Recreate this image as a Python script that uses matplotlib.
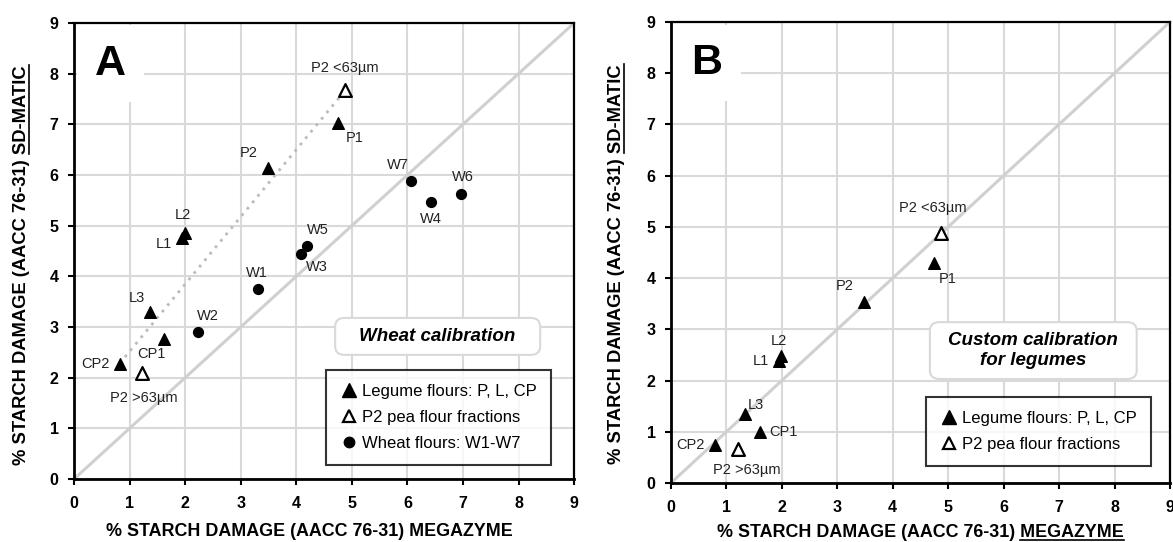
import numpy as np
import matplotlib.pyplot as plt
from matplotlib.lines import Line2D
from matplotlib.patches import FancyBboxPatch

plt.rcParams['font.family'] = ['Liberation Sans', 'DejaVu Sans']

# panel A - wheat calibration
leg_names = ['CP2', 'L3', 'CP1', 'L1', 'L2', 'P2', 'P1']
leg_x_a = [0.82, 1.36, 1.62, 1.95, 1.99, 3.49, 4.76]
leg_y_a = [2.28, 3.29, 2.76, 4.75, 4.85, 6.14, 7.03]
frac_names = ['P2 >63µm', 'P2 <63µm']
frac_x_a = [1.22, 4.88]
frac_y_a = [2.10, 7.67]
wheat_names = ['W1', 'W2', 'W3', 'W4', 'W5', 'W6', 'W7']
wheat_x = [3.32, 2.24, 4.09, 6.43, 4.19, 6.97, 6.07]
wheat_y = [3.76, 2.90, 4.44, 5.46, 4.60, 5.63, 5.88]

# panel B - custom calibration for legumes
leg_x_b = [0.80, 1.34, 1.60, 1.94, 1.98, 3.48, 4.74]
leg_y_b = [0.75, 1.34, 1.00, 2.39, 2.48, 3.54, 4.30]
frac_x_b = [1.21, 4.87]
frac_y_b = [0.66, 4.88]

# label offsets (points) for point names
leg_off_a = {'CP2': (-17.5, 0), 'L3': (-9, 10), 'CP1': (-9, -11), 'L1': (-13, -4),
             'L2': (-1, 13), 'P2': (-14, 11), 'P1': (12, -11)}
frac_off_a = {'P2 >63µm': (1.5, -18), 'P2 <63µm': (0, 16)}
wheat_off = {'W1': (-1, 11), 'W2': (6.5, 11.5), 'W3': (11.5, -9.5), 'W4': (0, -12),
             'W5': (8, 11.5), 'W6': (1, 12), 'W7': (-10, 11.5)}
leg_off_b = {'CP2': (-18, 0), 'L3': (8, 7), 'CP1': (17, 0), 'L1': (-13, 0),
             'L2': (-1, 11), 'P2': (-14, 11), 'P1': (10, -11.5)}
frac_off_b = {'P2 >63µm': (6, -15), 'P2 <63µm': (-6, 18)}

ylab = '% STARCH DAMAGE (AACC 76-31) SD-MATIC'
xlab = '% STARCH DAMAGE (AACC 76-31) MEGAZYME'
XL_SIZE = 12.9
YL_SIZE = 13.2

fig = plt.figure(figsize=(11.73, 5.42), dpi=100)
ax_a = fig.add_axes([0.0631, 0.1162, 0.4263, 0.8413])
ax_b = fig.add_axes([0.572, 0.1089, 0.4254, 0.8506])


def style_axes(ax):
    ax.set_xlim(0, 9)
    ax.set_ylim(0, 9)
    ax.set_xticks(range(10))
    ax.set_yticks(range(10))
    ax.grid(True, color='#d9d9d9', linewidth=1.5, zorder=0)
    ax.set_axisbelow(True)
    ax.plot([0, 9], [0, 9], color='#d0d0d0', linewidth=2.2, zorder=1)
    for s in ['left', 'bottom']:
        ax.spines[s].set_linewidth(2)
    for s in ['top', 'right']:
        ax.spines[s].set_linewidth(1.6)
    ax.tick_params(direction='out', length=4, width=1.5, labelsize=11.5)
    ax.tick_params(axis='x', pad=8)
    ax.tick_params(axis='y', pad=7)
    for lbl in ax.get_xticklabels() + ax.get_yticklabels():
        lbl.set_fontweight('bold')


def annotate(ax, names, xs, ys, offs):
    for n, x, y in zip(names, xs, ys):
        dx, dy = offs[n]
        ax.annotate(n, (x, y), xytext=(dx, dy), textcoords='offset points',
                    ha='center', va='center', fontsize=10.5, color='#222222', zorder=5)


def note_box(ax, x0, x1, y0, y1, txt):
    ax.add_patch(FancyBboxPatch((x0, y0), x1 - x0, y1 - y0,
                                boxstyle='round,pad=0,rounding_size=0.17',
                                facecolor='white', edgecolor='#d9d9d9', linewidth=1.5,
                                zorder=5))
    ax.text((x0 + x1) / 2, (y0 + y1) / 2, txt, fontsize=13.5, fontweight='bold',
            style='italic', ha='center', va='center', linespacing=1.25, zorder=6)


def text_len(s, size, renderer):
    t = fig.text(0, 0, s, fontsize=size, fontweight='bold')
    w = t.get_window_extent(renderer).width
    t.remove()
    return w


def underline_y(label, word, renderer):
    bb = label.get_window_extent(renderer)
    w = text_len(word, YL_SIZE, renderer)
    x = bb.x1 - 1.5
    fig.add_artist(Line2D([x / fig.bbox.width] * 2,
                          [(bb.y1 - w) / fig.bbox.height, bb.y1 / fig.bbox.height],
                          color='black', linewidth=1.2))


def underline_x(label, word, renderer):
    bb = label.get_window_extent(renderer)
    w = text_len(word, XL_SIZE, renderer)
    y = bb.y0 + 1.5
    fig.add_artist(Line2D([(bb.x1 - w) / fig.bbox.width, bb.x1 / fig.bbox.width],
                          [y / fig.bbox.height] * 2, color='black', linewidth=1.2))


handles = [
    Line2D([], [], marker='^', linestyle='', color='black', markersize=9.5),
    Line2D([], [], marker='^', linestyle='', markerfacecolor='white', markeredgecolor='black',
           markeredgewidth=1.6, markersize=8.5),
    Line2D([], [], marker='o', linestyle='', color='black', markersize=7.5),
]
leg_labels = ['Legume flours: P, L, CP', 'P2 pea flour fractions', 'Wheat flours: W1-W7']


def add_legend(ax, n, anchor):
    lg = ax.legend(handles[:n], leg_labels[:n], loc='lower right', bbox_to_anchor=anchor,
                   borderaxespad=0, fontsize=12, frameon=True, fancybox=False,
                   handletextpad=0.3, handlelength=1.0, borderpad=0.85, labelspacing=0.65)
    lg.get_frame().set_edgecolor('black')
    lg.get_frame().set_linewidth(1.5)
    lg.set_zorder(7)


# ---- panel A ----
style_axes(ax_a)
ax_a.plot([leg_x_a[0], frac_x_a[1]], [leg_y_a[0], frac_y_a[1]], linestyle=(0, (1, 2)),
          color='#bbbbbb', linewidth=2, zorder=2)
ax_a.scatter(leg_x_a, leg_y_a, marker='^', s=70, color='black', zorder=4)
ax_a.scatter(frac_x_a, frac_y_a, marker='^', s=85, facecolor='white', edgecolor='black',
             linewidth=1.6, zorder=4)
ax_a.scatter(wheat_x, wheat_y, marker='o', s=50, color='black', zorder=4)
annotate(ax_a, leg_names, leg_x_a, leg_y_a, leg_off_a)
annotate(ax_a, frac_names, frac_x_a, frac_y_a, frac_off_a)
annotate(ax_a, wheat_names, wheat_x, wheat_y, wheat_off)
ax_a.text(0.65, 8.2, 'A', fontsize=31, fontweight='bold', ha='center', va='center',
          bbox=dict(facecolor='white', edgecolor='none', pad=13), zorder=3)
note_box(ax_a, 4.70, 8.39, 2.45, 3.18, 'Wheat calibration')
add_legend(ax_a, 3, (0.954, 0.031))
ax_a.set_xlabel(xlab, fontsize=XL_SIZE, fontweight='bold')
ax_a.set_ylabel(ylab, fontsize=YL_SIZE, fontweight='bold')
ax_a.xaxis.set_label_coords(0.47, -0.097)
ax_a.yaxis.set_label_coords(-0.088, 0.47)

# ---- panel B ----
style_axes(ax_b)
ax_b.scatter(leg_x_b, leg_y_b, marker='^', s=70, color='black', zorder=4)
ax_b.scatter(frac_x_b, frac_y_b, marker='^', s=85, facecolor='white', edgecolor='black',
             linewidth=1.6, zorder=4)
annotate(ax_b, leg_names, leg_x_b, leg_y_b, leg_off_b)
annotate(ax_b, frac_names, frac_x_b, frac_y_b, frac_off_b)
ax_b.text(0.65, 8.2, 'B', fontsize=31, fontweight='bold', ha='center', va='center',
          bbox=dict(facecolor='white', edgecolor='none', pad=13), zorder=3)
note_box(ax_b, 4.67, 8.40, 2.03, 3.14, 'Custom calibration\nfor legumes')
add_legend(ax_b, 2, (0.962, 0.037))
ax_b.set_xlabel(xlab, fontsize=XL_SIZE, fontweight='bold')
ax_b.set_ylabel(ylab, fontsize=YL_SIZE, fontweight='bold')
ax_b.xaxis.set_label_coords(0.5, -0.09)
ax_b.yaxis.set_label_coords(-0.092, 0.475)

# underline the instrument names
fig.canvas.draw()
r = fig.canvas.get_renderer()
underline_y(ax_a.yaxis.label, 'SD-MATIC', r)
underline_y(ax_b.yaxis.label, 'SD-MATIC', r)
underline_x(ax_b.xaxis.label, 'MEGAZYME', r)

fig.savefig('out.png', dpi=100)
